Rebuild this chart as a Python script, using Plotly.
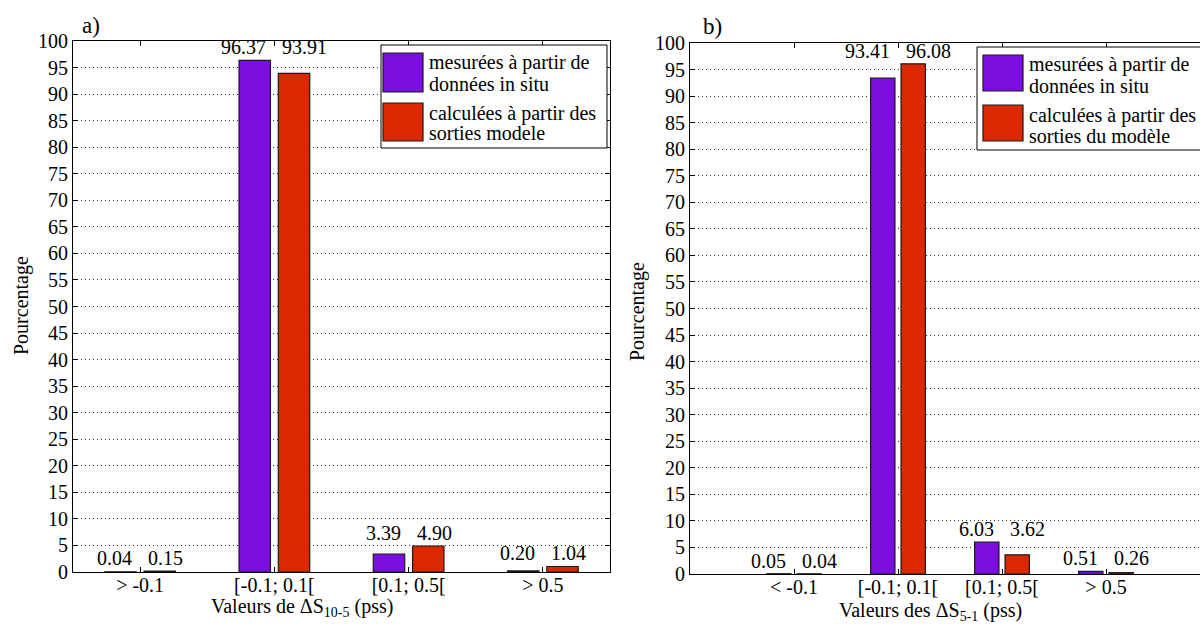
import plotly.graph_objects as go

# ---------------- data ----------------
cats_a = ["&gt; -0.1", "[-0.1; 0.1[", "[0.1; 0.5[", "&gt; 0.5"]
cats_b = ["&lt; -0.1", "[-0.1; 0.1[", "[0.1; 0.5[", "&gt; 0.5"]
mesure_a = [0.04, 96.37, 3.39, 0.20]
calcul_a = [0.15, 93.91, 4.90, 1.04]
mesure_b = [0.05, 93.41, 6.03, 0.51]
calcul_b = [0.04, 96.08, 3.62, 0.26]
yticks = list(range(0, 101, 5))
legend_a = [["mesurées à partir de", "données in situ"],
            ["calculées à partir des", "sorties modele"]]
legend_b = [["mesurées à partir de", "données in situ"],
            ["calculées à partir des", "sorties du modèle"]]

PURPLE = "#7B0FE0"
RED = "#DC2800"
FONT = "Liberation Serif"
W, H = 1200, 624


def px(x):
    return x / W


def py(y):
    return 1 - y / H


fig = go.Figure()
pos = [1, 2, 3, 4]

for xa, ya, m, c in [("x", "y", mesure_a, calcul_a), ("x2", "y2", mesure_b, calcul_b)]:
    fig.add_trace(go.Bar(x=pos, y=m, xaxis=xa, yaxis=ya, marker_color=PURPLE,
                         marker_line=dict(color="#1a1a1a", width=1.2), showlegend=False,
                         hoverinfo="y"))
    fig.add_trace(go.Bar(x=pos, y=c, xaxis=xa, yaxis=ya, marker_color=RED,
                         marker_line=dict(color="#1a1a1a", width=1.2), showlegend=False,
                         hoverinfo="y"))

axis_common = dict(showline=True, linecolor="black", linewidth=1, ticks="inside",
                   ticklen=5, tickcolor="black", zeroline=False, automargin=False,
                   tickfont=dict(family=FONT, size=20, color="black"))
grid = dict(showgrid=True, gridcolor="#333", griddash="1px,3px", gridwidth=1)

fig.update_layout(
    width=W, height=H, margin=dict(l=0, r=0, t=0, b=0, pad=0, autoexpand=False),
    paper_bgcolor="white", plot_bgcolor="white", showlegend=False,
    barmode="group", bargap=0.415, bargroupgap=0.2,
    font=dict(family=FONT, size=20, color="black"),
    xaxis=dict(domain=[px(73), px(610)], range=[0.5, 4.5], tickvals=pos, ticktext=cats_a,
               mirror="ticks", showgrid=False, anchor="y", ticklabelstandoff=-5, **axis_common),
    yaxis=dict(domain=[py(572), py(41)], range=[0, 100], tickvals=yticks, mirror="ticks",
               anchor="x", **grid, **axis_common),
    xaxis2=dict(domain=[px(690), 1.0], range=[0, 510 / 104], tickvals=pos, ticktext=cats_b,
                mirror="ticks", showgrid=False, anchor="y2", ticklabelstandoff=-5, **axis_common),
    yaxis2=dict(domain=[py(574), py(43)], range=[0, 100], tickvals=yticks, mirror=False,
                anchor="x2", **grid, **axis_common),
)

ann = []
shapes = []

# data labels
for xr, yr, m, c in [("x", "y", mesure_a, calcul_a), ("x2", "y2", mesure_b, calcul_b)]:
    for p, a, b in zip(pos, m, c):
        top = max(a, b)
        ann.append(dict(x=p, y=top, xref=xr, yref=yr, text=f"{a:.2f}", showarrow=False,
                        xanchor="right", yanchor="bottom", xshift=-6, yshift=0,
                        font=dict(family=FONT, size=20, color="black")))
        ann.append(dict(x=p, y=top, xref=xr, yref=yr, text=f"{b:.2f}", showarrow=False,
                        xanchor="left", yanchor="bottom", xshift=6, yshift=0,
                        font=dict(family=FONT, size=20, color="black")))

# axis titles and panel labels
ann += [
    dict(x=px(302), y=py(607), xref="paper", yref="paper", text="Valeurs de ΔS<sub>10-5</sub> (pss)",
         showarrow=False, xanchor="center", yanchor="middle", font=dict(family=FONT, size=20)),
    dict(x=px(930), y=py(611), xref="paper", yref="paper", text="Valeurs des ΔS<sub>5-1</sub> (pss)",
         showarrow=False, xanchor="center", yanchor="middle", font=dict(family=FONT, size=20)),
    dict(x=px(21), y=py(306), xref="paper", yref="paper", text="Pourcentage", textangle=-90,
         showarrow=False, xanchor="center", yanchor="middle", font=dict(family=FONT, size=20)),
    dict(x=px(637), y=py(312), xref="paper", yref="paper", text="Pourcentage", textangle=-90,
         showarrow=False, xanchor="center", yanchor="middle", font=dict(family=FONT, size=20)),
    dict(x=px(91), y=py(26), xref="paper", yref="paper", text="a)", showarrow=False,
         xanchor="center", yanchor="middle", font=dict(family=FONT, size=23)),
    dict(x=px(712), y=py(27), xref="paper", yref="paper", text="b)", showarrow=False,
         xanchor="center", yanchor="middle", font=dict(family=FONT, size=23)),
]

# manual legends
for (bx0, by0, bx1, by1), sw_x, sw_y, txt_x, line_y, labels in [
    ((381, 45, 607, 148), (383, 423), [(53, 92), (103, 141)], 427, [63, 84, 113, 133], legend_a),
    ((977, 47, 1215, 150), (983, 1023), [(55, 91), (105, 141)], 1027, [65, 86, 115, 136], legend_b),
]:
    shapes.append(dict(type="rect", xref="paper", yref="paper", x0=px(bx0), x1=px(bx1),
                       y0=py(by0), y1=py(by1), fillcolor="white",
                       line=dict(color="black", width=1)))
    for (y0, y1), col in zip(sw_y, [PURPLE, RED]):
        shapes.append(dict(type="rect", xref="paper", yref="paper", x0=px(sw_x[0]), x1=px(sw_x[1]),
                           y0=py(y0), y1=py(y1), fillcolor=col,
                           line=dict(color="#1a1a1a", width=1.2)))
    lines = labels[0] + labels[1]
    for t, ly in zip(lines, line_y):
        ann.append(dict(x=px(txt_x), y=py(ly), xref="paper", yref="paper", text=t,
                        showarrow=False, xanchor="left", yanchor="middle",
                        font=dict(family=FONT, size=20, color="black")))

fig.update_layout(annotations=ann, shapes=shapes)
fig.write_html("out.html", config={"displayModeBar": False},
               post_script="document.body.style.margin='0';")
